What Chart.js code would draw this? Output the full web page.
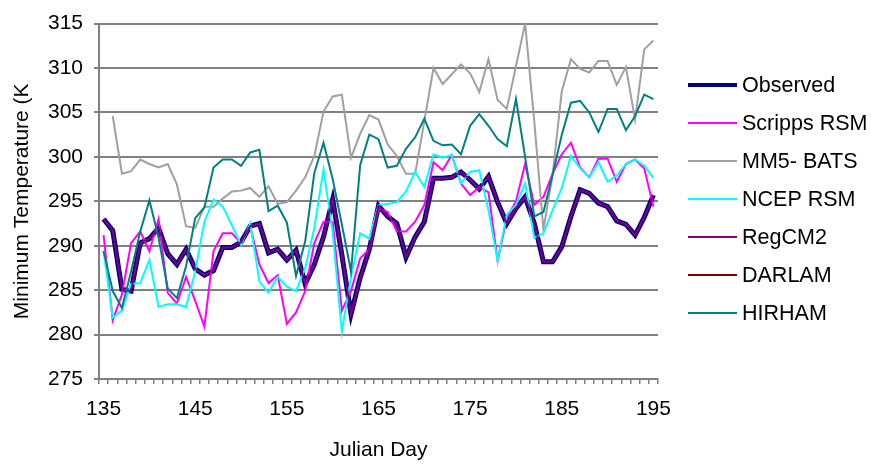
<!DOCTYPE html>
<html>
<head>
<meta charset="utf-8">
<script src="https://cdn.jsdelivr.net/npm/chart.js@4.4.1/dist/chart.umd.min.js"></script>
<style>
  html, body { margin: 0; padding: 0; background: #fff; }
  #caixa { width: 871px; height: 466px; }
</style>
</head>
<body>
<div id="caixa"><canvas id="grafico" width="871" height="466"></canvas></div>
<script>
// Dias julianos (eixo X)
const dias = [135, 136, 137, 138, 139, 140, 141, 142, 143, 144,
  145, 146, 147, 148, 149, 150, 151, 152, 153, 154,
  155, 156, 157, 158, 159, 160, 161, 162, 163, 164,
  165, 166, 167, 168, 169, 170, 171, 172, 173, 174,
  175, 176, 177, 178, 179, 180, 181, 182, 183, 184,
  185, 186, 187, 188, 189, 190, 191, 192, 193, 194, 195];

// Temperatura mínima (K) por série
const observed = [293.0, 291.7, 285.1, 284.9, 290.3, 290.8, 292.0, 289.1, 287.9, 289.6,
  287.4, 286.7, 287.2, 289.8, 289.8, 290.4, 292.2, 292.5, 289.2, 289.6,
  288.4, 289.5, 285.7, 287.9, 291.0, 295.2, 289.0, 282.3, 286.4, 289.6,
  294.5, 293.3, 292.5, 288.7, 291.0, 292.7, 297.6, 297.6, 297.7, 298.3,
  297.4, 296.4, 297.8, 294.9, 292.5, 294.2, 295.5, 292.5, 288.2, 288.2,
  289.9, 293.3, 296.3, 295.9, 294.8, 294.4, 292.8, 292.4, 291.2, 293.2, 295.7];

const scripps = [291.2, 281.6, 284.5, 290.3, 291.6, 289.4, 293.0, 284.7, 283.5, 286.5,
  283.8, 280.9, 289.4, 291.4, 291.4, 290.3, 292.2, 287.9, 285.8, 286.7,
  281.2, 282.5, 284.9, 290.3, 292.7, 292.7, 282.7, 284.9, 288.6, 289.6,
  294.2, 293.8, 291.6, 291.6, 292.7, 294.6, 299.4, 298.5, 300.2, 297.0,
  295.7, 296.6, 296.0, 288.3, 293.1, 295.0, 299.2, 294.6, 295.5, 298.1,
  300.3, 301.6, 298.8, 297.7, 299.8, 299.8, 297.2, 299.2, 299.7, 298.7, 294.4];

const mm5 = [null, 304.6, 298.1, 298.4, 299.7, 299.2, 298.8, 299.2, 296.9, 292.2,
  292.0, 294.4, 294.4, 295.3, 296.1, 296.2, 296.5, 295.5, 296.7, 294.7,
  294.9, 296.2, 297.7, 300.1, 305.1, 306.8, 307.0, 299.9, 302.6, 304.7,
  304.2, 301.4, 300.1, 298.1, 298.1, 304.0, 310.0, 308.2, 309.3, 310.4,
  309.4, 307.3, 311.0, 306.4, 305.4, 310.2, 315.0, 304.0, 291.8, 298.0,
  307.4, 311.0, 309.9, 309.5, 310.8, 310.8, 308.1, 310.1, 304.2, 312.1, 313.1];

const ncep = [289.4, 281.9, 282.7, 285.7, 285.8, 288.4, 283.1, 283.4, 283.4, 283.1,
  287.1, 292.7, 295.2, 294.4, 292.3, 290.1, 292.5, 286.0, 284.7, 286.5,
  285.4, 284.9, 287.5, 292.0, 298.6, 291.5, 280.3, 286.5, 291.4, 290.8,
  294.6, 294.7, 294.9, 296.1, 298.3, 296.6, 300.3, 299.9, 300.2, 297.0,
  298.3, 298.5, 294.0, 288.3, 293.5, 294.6, 297.0, 290.9, 291.4, 294.0,
  296.5, 300.1, 298.7, 297.7, 299.4, 297.2, 297.9, 299.2, 299.7, 299.0, 297.6];

// RegCM2 coincide com a observação no gráfico original
const regcm2 = observed.slice();

// DARLAM não aparece no gráfico
const darlam = [];

const hirham = [289.4, 284.9, 283.0, 287.1, 291.6, 295.1, 290.9, 285.2, 284.1, 287.7,
  293.1, 294.3, 298.8, 299.7, 299.7, 299.0, 300.5, 300.8, 293.9, 294.5,
  292.6, 286.6, 290.5, 298.2, 301.6, 297.5, 292.4, 287.1, 299.1, 302.5,
  302.0, 298.8, 299.0, 300.9, 302.2, 304.3, 301.8, 301.3, 301.4, 300.3,
  303.5, 304.8, 303.5, 302.0, 301.2, 306.5, 300.0, 293.3, 293.8, 298.0,
  302.5, 306.1, 306.3, 305.0, 302.8, 305.4, 305.4, 303.0, 304.6, 307.0, 306.5];

const nomes = ['Observed', 'Scripps RSM', 'MM5- BATS', 'NCEP RSM', 'RegCM2', 'DARLAM', 'HIRHAM'];
const cores = ['#000080', '#FF00FF', '#A0A0A0', '#00FFFF', '#800080', '#800000', '#008080'];
const espessuras = [5, 2, 2, 2, 2, 2, 2];
const series = [observed, scripps, mm5, ncep, regcm2, darlam, hirham];

const fonte = 'Liberation Sans, Arial, sans-serif';

// Legenda desenhada à direita, como no original
const legendaLateral = {
  id: 'legendaLateral',
  afterDraw(chart) {
    const ctx = chart.ctx;
    ctx.save();
    ctx.font = '21.5px ' + fonte;
    ctx.fillStyle = '#000';
    ctx.textBaseline = 'middle';
    nomes.forEach((nome, i) => {
      const y = 85 + i * 38;
      ctx.strokeStyle = cores[i];
      ctx.lineWidth = i === 0 ? 4 : 2;
      ctx.beginPath();
      ctx.moveTo(688, y);
      ctx.lineTo(737, y);
      ctx.stroke();
      ctx.fillText(nome, 742, y + 1);
    });
    ctx.restore();
  }
};

const contexto = document.getElementById('grafico').getContext('2d');
const grafico = new Chart(contexto, {
  type: 'line',
  data: {
    labels: dias,
    datasets: series.map((dados, i) => ({
      label: nomes[i],
      data: dados,
      borderColor: cores[i],
      borderWidth: espessuras[i],
      pointRadius: 0,
      tension: 0,
      fill: false,
      spanGaps: false,
      order: 7 - i   // séries posteriores por cima, como no Excel
    }))
  },
  options: {
    responsive: false,
    animation: false,
    layout: { padding: { top: 20, right: 213, left: 0, bottom: 0 } },
    plugins: {
      legend: { display: false },
      tooltip: { enabled: false }
    },
    scales: {
      x: {
        type: 'category',
        offset: true,
        grid: { drawOnChartArea: false, offset: true, color: '#808080', lineWidth: 1.5, tickLength: 5 },
        border: { color: '#808080', width: 2 },
        ticks: {
          autoSkip: false,
          maxRotation: 0,
          color: '#000',
          padding: 13,
          font: { family: fonte, size: 21 },
          callback: function (valor, indice) {
            const d = dias[indice];
            return (d - 135) % 10 === 0 ? String(d) : '';
          }
        },
        title: {
          display: true,
          text: 'Julian Day',
          color: '#000',
          font: { family: fonte, size: 21 },
          padding: { top: 0, bottom: 3 }
        },
        afterFit: function (escala) { escala.height = 87; }
      },
      y: {
        min: 275,
        max: 315,
        grid: { color: '#808080', lineWidth: 2, tickLength: 5 },
        border: { color: '#808080', width: 2 },
        ticks: {
          stepSize: 5,
          color: '#000',
          padding: 11,
          font: { family: fonte, size: 21 }
        },
        title: {
          display: true,
          text: 'Minimum Temperature (K',
          color: '#000',
          font: { family: fonte, size: 21 },
          padding: { top: 10, bottom: 0 }
        },
        afterFit: function (escala) { escala.width = 99; }
      }
    }
  },
  plugins: [legendaLateral]
});
</script>
</body>
</html>
